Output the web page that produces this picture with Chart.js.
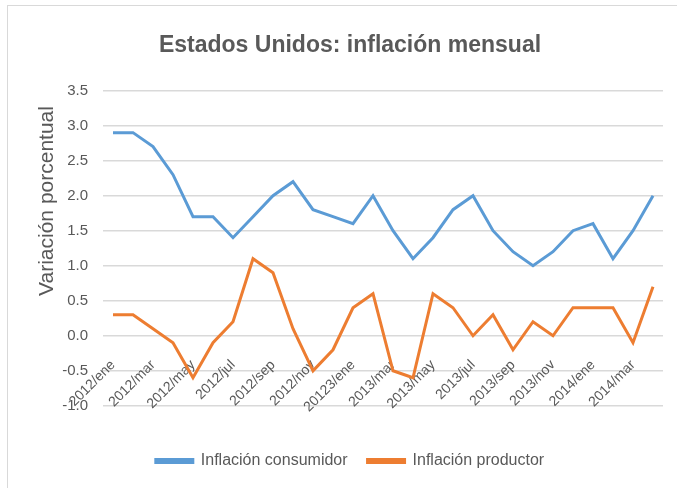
<!DOCTYPE html>
<html>
<head>
<meta charset="utf-8">
<script src="https://cdn.jsdelivr.net/npm/chart.js@4"></script>
<style>
  body { margin: 0; background: #fff; overflow: hidden; }
  #box {
    position: absolute; left: 7px; top: 5px;
    width: 690px; height: 500px;
    border: 1px solid #d9d9d9; background: #fff;
  }
  #chart { position: absolute; left: 0; top: 0; }
</style>
</head>
<body>
<div id="box"><canvas id="chart" width="684" height="483"></canvas></div>
<script>
let months = [
  "2012/ene", "2012/feb", "2012/mar", "2012/abr", "2012/may", "2012/jun",
  "2012/jul", "2012/ago", "2012/sep", "2012/oct", "2012/nov", "2012/dic",
  "20123/ene", "2013/feb", "2013/mar", "2013/abr", "2013/may", "2013/jun",
  "2013/jul", "2013/ago", "2013/sep", "2013/oct", "2013/nov", "2013/dic",
  "2014/ene", "2014/feb", "2014/mar", "2014/abr"
];

let consumidor = [
  2.9, 2.9, 2.7, 2.3, 1.7, 1.7, 1.4, 1.7, 2.0, 2.2, 1.8, 1.7,
  1.6, 2.0, 1.5, 1.1, 1.4, 1.8, 2.0, 1.5, 1.2, 1.0, 1.2, 1.5,
  1.6, 1.1, 1.5, 2.0
];

let productor = [
  0.3, 0.3, 0.1, -0.1, -0.6, -0.1, 0.2, 1.1, 0.9, 0.1, -0.5, -0.2,
  0.4, 0.6, -0.5, -0.6, 0.6, 0.4, 0.0, 0.3, -0.2, 0.2, 0.0, 0.4,
  0.4, 0.4, -0.1, 0.7
];

let gray = "#595959";
let font = "'Liberation Sans', Arial, sans-serif";

// y axis title drawn by hand so it can sit a bit above the middle, like Excel did
let yTitle = {
  id: "yTitle",
  afterDraw(chart) {
    let ctx = chart.ctx;
    ctx.save();
    ctx.translate(39, 195);
    ctx.rotate(-Math.PI / 2);
    ctx.font = "21px " + font;
    ctx.fillStyle = gray;
    ctx.textAlign = "center";
    ctx.textBaseline = "middle";
    ctx.fillText("Variación porcentual", 0, 0);
    ctx.restore();
  }
};

new Chart(document.getElementById("chart"), {
  type: "line",
  data: {
    labels: months,
    datasets: [
      {
        label: "Inflación consumidor",
        data: consumidor,
        borderColor: "#5B9BD5",
        backgroundColor: "#5B9BD5",
        borderWidth: 3,
        pointRadius: 0,
        tension: 0,
        fill: false
      },
      {
        label: "Inflación productor",
        data: productor,
        borderColor: "#ED7D31",
        backgroundColor: "#ED7D31",
        borderWidth: 3,
        pointRadius: 0,
        tension: 0,
        fill: false
      }
    ]
  },
  options: {
    responsive: false,
    animation: false,
    layout: { padding: { left: 29, right: 29, top: 0, bottom: 10 } },
    plugins: {
      title: {
        display: true,
        text: "Estados Unidos: inflación mensual",
        color: gray,
        font: { family: font, size: 23, weight: "bold" },
        padding: { top: 26, bottom: 31 }
      },
      legend: {
        position: "bottom",
        // empty legend title only used as a spacer above the items
        title: { display: true, text: " ", font: { size: 1 }, padding: { top: 13, bottom: 13 } },
        labels: {
          color: gray,
          font: { family: font, size: 16 },
          boxWidth: 37,
          boxHeight: 3,
          padding: 20
        }
      },
      tooltip: { enabled: false }
    },
    scales: {
      x: {
        position: { y: 0 },
        offset: true,
        grid: { display: false },
        border: { display: false },
        ticks: {
          autoSkip: false,
          maxRotation: 45,
          minRotation: 45,
          color: gray,
          padding: 13,
          font: { family: font, size: 14 },
          callback: function (val, i) {
            return i % 2 === 0 ? this.getLabelForValue(val) : "";
          }
        }
      },
      y: {
        min: -1,
        max: 3.5,
        afterFit: (s) => { s.width = 66; },
        grid: { color: "#d9d9d9", drawTicks: false, lineWidth: 1.5 },
        border: { display: false },
        ticks: {
          stepSize: 0.5,
          padding: 15,
          color: gray,
          font: { family: font, size: 15 },
          callback: (v) => v.toFixed(1)
        }
      }
    }
  },
  plugins: [yTitle]
});
</script>
</body>
</html>
